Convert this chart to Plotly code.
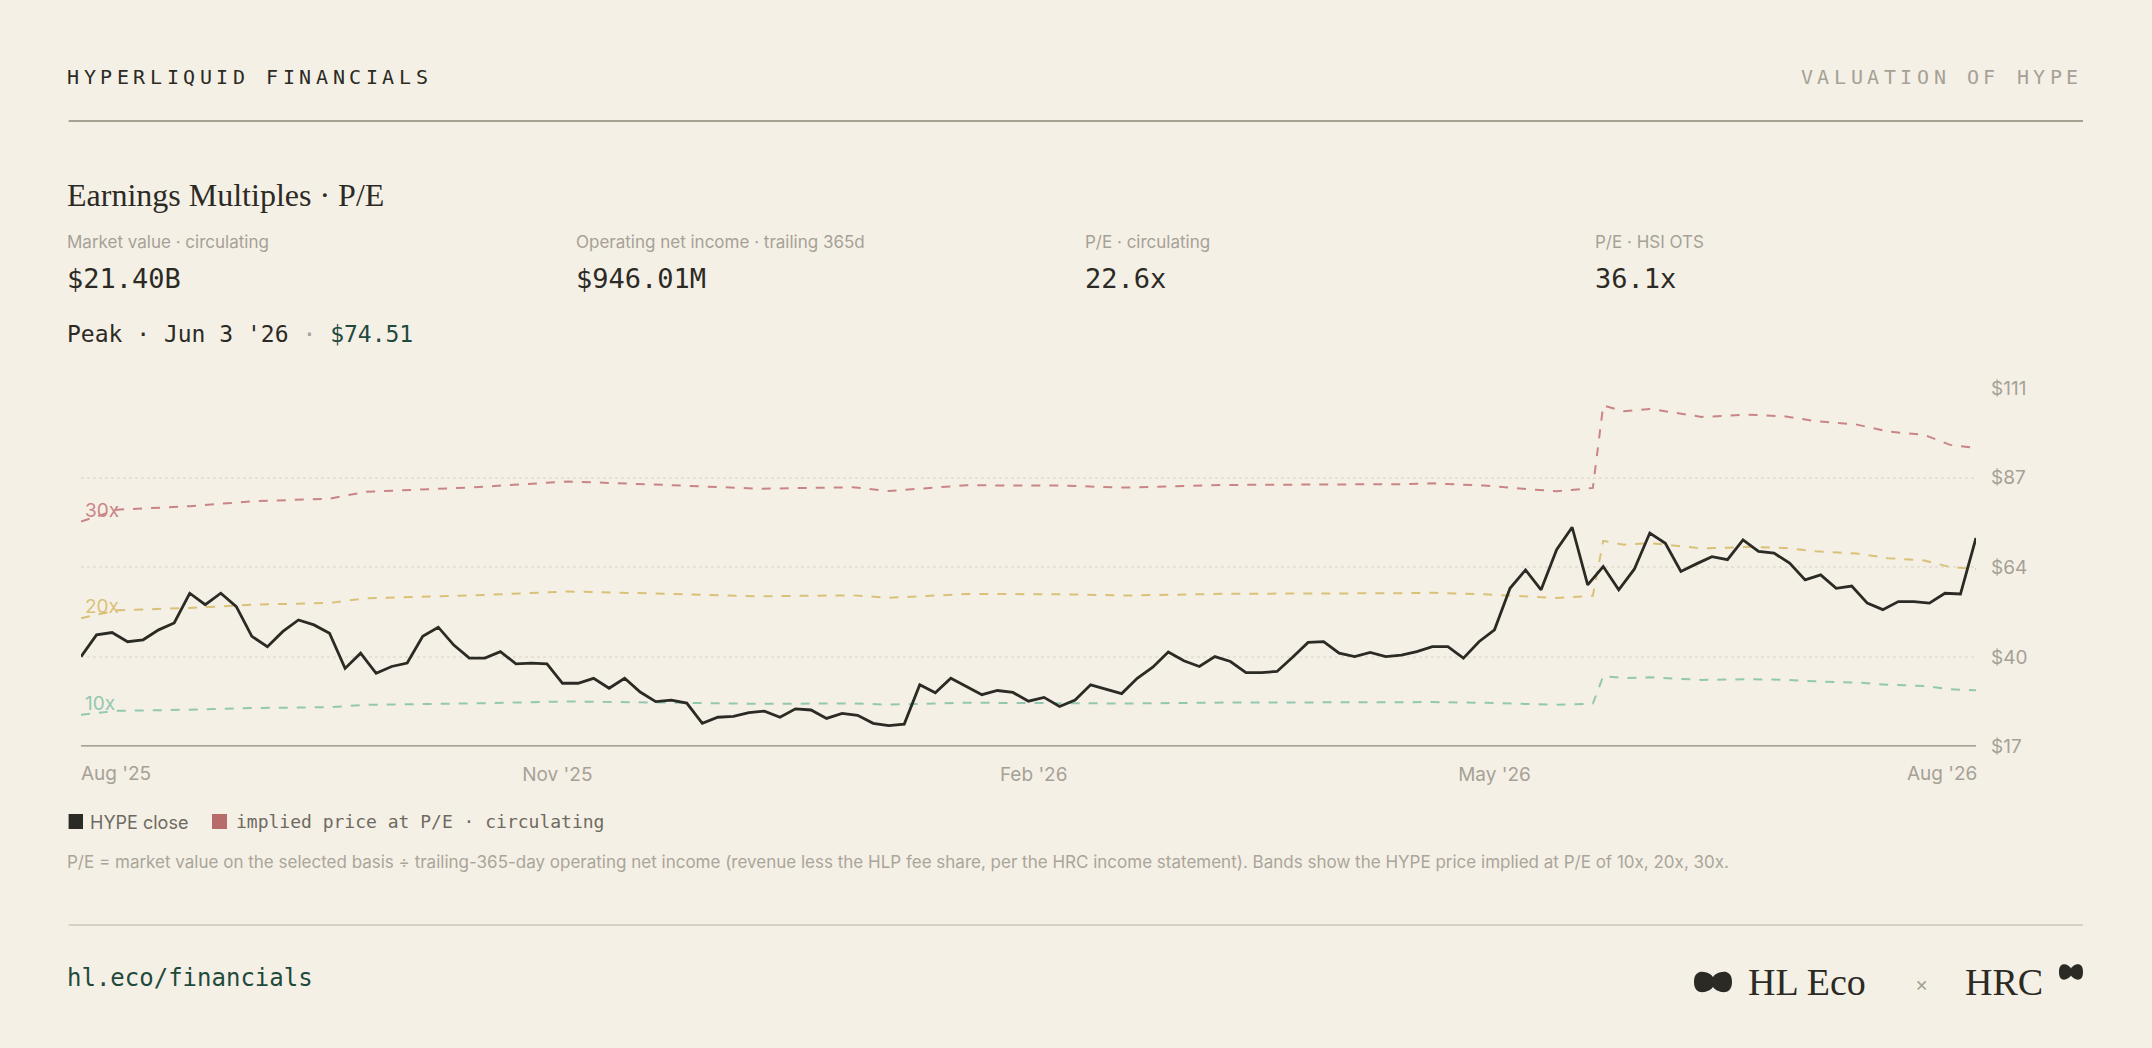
import pandas as pd
import plotly.graph_objects as go

W, H = 2152, 1048

# HYPE close, sampled every 3 days from 2025-08-01
close_start = "2025-08-01"
close = [
    40.6, 46.3, 46.9, 44.5, 45.0, 47.6, 49.4, 57.2, 54.2, 57.2,
    53.7, 45.9, 43.2, 47.2, 50.2, 48.9, 46.7, 37.5, 41.5, 36.2,
    38.0, 38.9, 45.9, 48.3, 43.6, 40.2, 40.2, 41.9, 38.7, 38.9,
    38.7, 33.6, 33.6, 34.9, 32.3, 34.9, 31.3, 28.8, 29.2, 28.4,
    23.1, 24.7, 24.9, 25.9, 26.3, 24.7, 26.9, 26.6, 24.4, 25.7,
    25.2, 23.1, 22.5, 22.9, 33.2, 31.1, 34.9, 32.7, 30.6, 31.7,
    31.2, 28.9, 29.9, 27.5, 29.2, 33.2, 32.0, 30.9, 34.9, 37.8,
    41.8, 39.5, 38.0, 40.6, 39.3, 36.4, 36.4, 36.7, 40.4, 44.3,
    44.5, 41.5, 40.6, 41.7, 40.6, 41.0, 41.9, 43.2, 43.2, 40.2,
    44.5, 47.6, 58.5, 63.3, 58.1, 68.6, 74.5, 59.4, 64.2, 58.1,
    63.5, 73.0, 70.3, 62.9, 64.9, 66.8, 66.0, 71.2, 68.2, 67.7,
    65.1, 60.7, 62.0, 58.5, 59.1, 54.6, 52.9, 55.0, 55.0, 54.6,
    57.2, 57.0, 71.7,
]
close_dates = pd.date_range(close_start, periods=len(close), freq="3D")

# trailing-365d operating net income per circulating token (price at 1x P/E)
eps_dates = [
    "2025-08-01", "2025-08-08", "2025-08-22", "2025-09-03", "2025-09-18",
    "2025-09-25", "2025-10-16", "2025-11-03", "2025-11-22", "2025-12-10",
    "2025-12-28", "2026-01-04", "2026-01-19", "2026-02-06", "2026-02-19",
    "2026-03-10", "2026-04-13", "2026-04-19", "2026-04-29", "2026-05-13",
    "2026-05-20", "2026-05-22", "2026-05-26", "2026-05-31", "2026-06-05",
    "2026-06-10", "2026-06-19", "2026-06-26", "2026-07-02", "2026-07-10",
    "2026-07-16", "2026-07-23", "2026-07-28", "2026-08-02",
]
eps = [
    2.533, 2.637, 2.667, 2.710, 2.733, 2.793, 2.833, 2.883, 2.853, 2.820,
    2.833, 2.800, 2.850, 2.847, 2.830, 2.853, 2.860, 2.867, 2.847, 2.797,
    2.827, 3.547, 3.497, 3.517, 3.483, 3.447, 3.467, 3.453, 3.410, 3.380,
    3.320, 3.290, 3.203, 3.177,
]
multiples = [10, 20, 30]
band_colors = ["#93c8b0", "#d9c178", "#c98585"]

y_ticks = [17, 40.5, 64, 87.5, 111]
y_ticktext = ["$17", "$40", "$64", "$87", "$111"]
x_ticks = ["2025-11-01", "2026-02-01", "2026-05-01"]
x_ticktext = ["Nov '25", "Feb '26", "May '26"]
x_edge_labels = ["Aug '25", "Aug '26"]

stats = [
    ("Market value · circulating", "$21.40B"),
    ("Operating net income · trailing 365d", "$946.01M"),
    ("P/E · circulating", "22.6x"),
    ("P/E · HSI OTS", "36.1x"),
]

BG = "#f5f0e6"
INK = "#2b2a25"
GREY = "#a6a196"
MONO = "DejaVu Sans Mono"
SANS = "Inter"
SERIF = "Liberation Serif"
LX = 65  # left text edge (annotation box adds ~3px padding)


def py(px):
    return 1 - px / H


def px_(x):
    return x / W


fig = go.Figure()

for m, col in zip(multiples, band_colors):
    fig.add_trace(go.Scatter(
        x=eps_dates, y=[e * m for e in eps], mode="lines",
        line=dict(color=col, width=2, dash="dash"), hoverinfo="skip",
        showlegend=False,
    ))
    fig.add_annotation(
        x=eps_dates[0], y=eps[0] * m, xref="x", yref="y", text=f"{m}x",
        showarrow=False, xanchor="left", yanchor="bottom", xshift=2, yshift=-2,
        font=dict(family=SANS, size=19, color=col),
    )

fig.add_trace(go.Scatter(
    x=close_dates, y=close, mode="lines",
    line=dict(color=INK, width=2.8), showlegend=False,
))

texts = [
    dict(x=LX, y=195, text="Earnings Multiples · P/E", xanchor="left",
         font=dict(family=SERIF, size=32, color=INK)),
    dict(x=LX, y=334,
         text="Peak · Jun 3 '26 <span style='color:#a6a196'>·</span> "
              "<span style='color:#1f4a3c'>$74.51</span>",
         xanchor="left", font=dict(family=MONO, size=23, color=INK)),
    dict(x=88, y=822, text="HYPE close", xanchor="left",
         font=dict(family=SANS, size=18, color="#6e6a61")),
    dict(x=234, y=821, text="implied price at P/E · circulating", xanchor="left",
         font=dict(family=MONO, size=18, color="#6e6a61")),
    dict(x=LX, y=862,
         text="P/E = market value on the selected basis ÷ trailing-365-day operating net income "
              "(revenue less the HLP fee share, per the HRC income statement). "
              "Bands show the HYPE price implied at P/E of 10x, 20x, 30x.",
         xanchor="left", font=dict(family=SANS, size=17, color="#aaa59a")),
    dict(x=LX, y=978, text="hl.eco/financials", xanchor="left",
         font=dict(family=MONO, size=24, color="#1f4a3c")),
    dict(x=1746, y=982, text="HL Eco", xanchor="left",
         font=dict(family=SERIF, size=38, color=INK)),
    dict(x=1921, y=984, text="×", xanchor="center",
         font=dict(family=SANS, size=20, color=GREY)),
    dict(x=1963, y=982, text="HRC", xanchor="left",
         font=dict(family=SERIF, size=38, color=INK)),
    dict(x=79, y=773, text=x_edge_labels[0], xanchor="left",
         font=dict(family=SANS, size=19, color=GREY)),
    dict(x=1979, y=773, text=x_edge_labels[1], xanchor="right",
         font=dict(family=SANS, size=19, color=GREY)),
]
cols_x = [LX, 574, 1083, 1593]
for (lab, val), cx in zip(stats, cols_x):
    texts.append(dict(x=cx, y=242, text=lab, xanchor="left",
                      font=dict(family=SANS, size=17, color=GREY)))
    texts.append(dict(x=cx, y=278, text=val, xanchor="left",
                      font=dict(family=MONO, size=27, color=INK)))

# letter-spaced headers, one glyph per annotation
STEP = 16.6
for i, ch in enumerate("HYPERLIQUID FINANCIALS"):
    texts.append(dict(x=LX + i * STEP, y=77, text=ch, xanchor="left",
                      font=dict(family=MONO, size=20, color=INK)))
right_head = "VALUATION OF HYPE"
for i, ch in enumerate(right_head):
    texts.append(dict(x=2083 - (len(right_head) - i) * STEP - 2, y=77, text=ch,
                      xanchor="left", font=dict(family=MONO, size=20, color=GREY)))

for t in texts:
    if t["text"] == " ":
        continue
    fig.add_annotation(
        x=px_(t["x"]), y=py(t["y"]), xref="paper", yref="paper", text=t["text"],
        showarrow=False, xanchor=t["xanchor"], yanchor="middle", font=t["font"],
    )


def mark(x0, x1, yc, hh):
    xm = (x0 + x1) / 2
    return (f"M {px_(x0)},{py(yc)} "
            f"C {px_(x0)},{py(yc - hh)} {px_(xm - 2)},{py(yc - hh * 0.6)} {px_(xm)},{py(yc - hh * 0.3)} "
            f"C {px_(xm + 2)},{py(yc - hh * 0.6)} {px_(x1)},{py(yc - hh)} {px_(x1)},{py(yc)} "
            f"C {px_(x1)},{py(yc + hh)} {px_(xm + 2)},{py(yc + hh * 0.6)} {px_(xm)},{py(yc + hh * 0.3)} "
            f"C {px_(xm - 2)},{py(yc + hh * 0.6)} {px_(x0)},{py(yc + hh)} {px_(x0)},{py(yc)} Z")


P = dict(xref="paper", yref="paper")
shapes = [
    dict(type="line", x0=px_(68.6), x1=px_(2083), y0=py(121), y1=py(121),
         line=dict(color="#8c8778", width=1.5), **P),
    dict(type="line", x0=px_(68.6), x1=px_(2083), y0=py(925), y1=py(925),
         line=dict(color="#cdc7b8", width=1.5), **P),
    dict(type="rect", x0=px_(68.6), x1=px_(83), y0=py(814), y1=py(829),
         line=dict(width=0), fillcolor=INK, **P),
    dict(type="rect", x0=px_(212), x1=px_(227), y0=py(814), y1=py(829),
         line=dict(width=0), fillcolor="#b86b6b", **P),
    dict(type="path", path=mark(1694, 1732, 982, 16), fillcolor=INK,
         line=dict(width=0), **P),
    dict(type="path", path=mark(2059, 2083, 972, 12), fillcolor=INK,
         line=dict(width=0), **P),
    dict(type="line", x0=81 / W, x1=1976 / W, y0=17, y1=17, xref="paper", yref="y",
         line=dict(color="#8f8a7c", width=2.5)),
]

fig.update_layout(
    width=W, height=H, margin=dict(l=0, r=0, t=0, b=0, pad=0),
    paper_bgcolor=BG, plot_bgcolor=BG, shapes=shapes, showlegend=False,
    xaxis=dict(
        domain=[81 / W, 1976 / W], type="date", automargin=False,
        range=["2025-08-01", "2026-08-02"],
        tickvals=x_ticks, ticktext=x_ticktext, showgrid=False, zeroline=False,
        showline=False, ticks="", ticklabelstandoff=14,
        tickfont=dict(family=SANS, size=19, color=GREY),
    ),
    yaxis=dict(
        domain=[py(746.6), py(388)], range=[17, 111], side="right", automargin=False,
        tickvals=y_ticks, ticktext=y_ticktext, showgrid=True,
        gridcolor="#e6e1d4", griddash="dot", gridwidth=2, zeroline=False,
        showline=False, ticks="", ticklabelstandoff=14,
        tickfont=dict(family=SANS, size=19, color=GREY),
    ),
)

fig.write_html("out.html", config={"displayModeBar": False},
               post_script="document.body.style.margin='0';")
